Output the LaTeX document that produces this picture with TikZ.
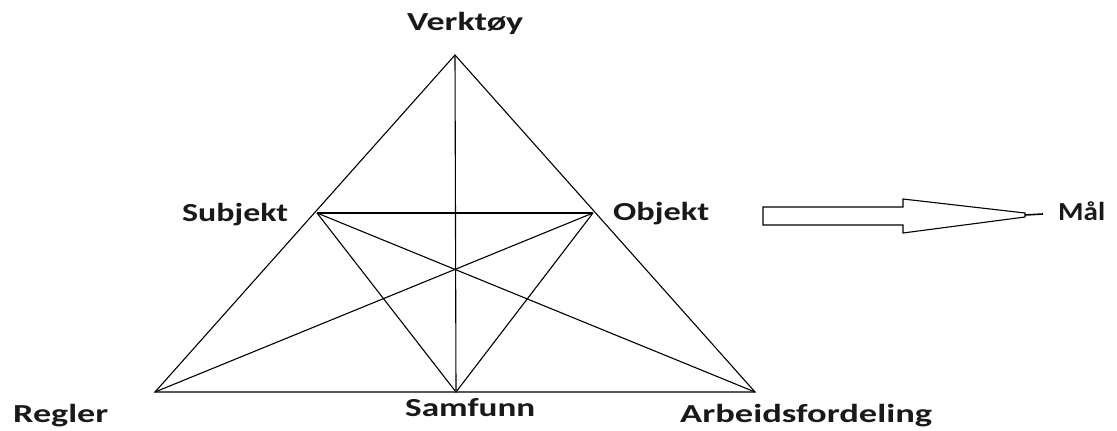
\documentclass[tikz,border=0pt]{standalone}
\usepackage{fontspec}
\setmainfont{Carlito}
\newcommand{\lab}[2]{\resizebox{#1pt}{\height}{\fontsize{26pt}{30pt}\selectfont\bfseries #2}}
\begin{document}
\begin{tikzpicture}[x=1pt,y=-1pt,
  edge/.style={line width=1.1pt,black},
  lbl/.style={inner sep=0pt,anchor=base west,text=black!90}]
\useasboundingbox (0,0) rectangle (1117,431);
% points
\coordinate (V) at (455,55);
\coordinate (S) at (317,213);
\coordinate (O) at (593,213);
\coordinate (R) at (155,392);
\coordinate (M) at (456,392);
\coordinate (A) at (755,392);
% lines
\draw[edge] (V) -- (R) -- (A) -- cycle;
\draw[edge] (V) -- (M);
\draw[edge] (S) -- (O);
\draw[edge] (S) -- (M) -- (O);
\draw[edge] (S) -- (A);
\draw[edge] (O) -- (R);
% labels
\node[lbl] (tV) at (407,30) {\lab{116}{Verktøy}};
\node[lbl] (tS) at (182,221) {\lab{106}{Subjekt}};
\node[lbl] (tO) at (613,220) {\lab{96}{Objekt}};
\node[lbl] (tM) at (1058,220) {\lab{47}{Mål}};
\node[lbl] (tR) at (13,422) {\lab{95}{Regler}};
\node[lbl] (tSa) at (405,416) {\lab{130}{Samfunn}};
\node[lbl] (tA) at (680,422) {\lab{252}{Arbeidsfordeling}};
% block arrow
\coordinate (arrtip) at (1043,214);
\draw[line width=1.1pt] (763,207) -- (903,207) -- (903,199) -- (1025,213) -- (1025,217) -- (903,233) -- (903,225) -- (763,225) -- cycle;
\draw[line width=1.6pt] (1025,215) -- (arrtip);
\end{tikzpicture}
\end{document}
